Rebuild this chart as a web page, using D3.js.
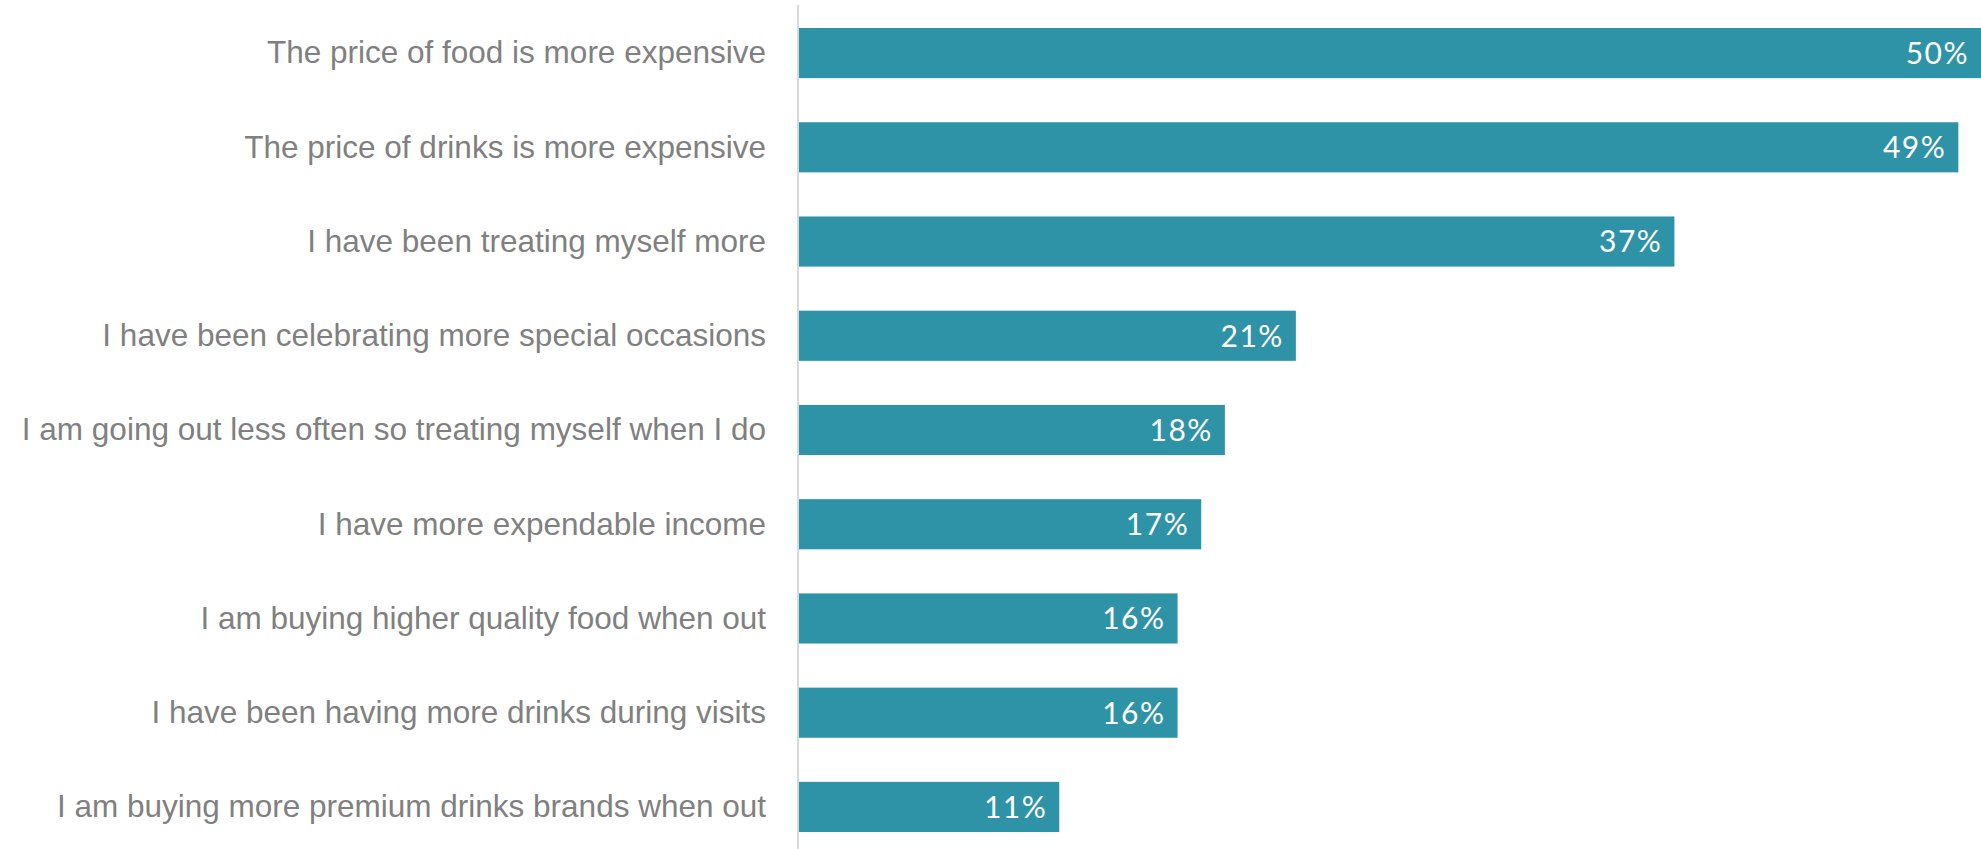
<!DOCTYPE html>
<html>
<head>
<meta charset="utf-8">
<script src="https://cdn.jsdelivr.net/npm/d3@7"></script>
<style>
  html, body { margin: 0; padding: 0; background: #ffffff; }
  svg { display: block; }
</style>
</head>
<body>
<svg id="chart" width="1981" height="849"></svg>
<script>
// Reasons given, share of respondents (%)
const categories = [
  "The price of food is more expensive",
  "The price of drinks is more expensive",
  "I have been treating myself more",
  "I have been celebrating more special occasions",
  "I am going out less often so treating myself when I do",
  "I have more expendable income",
  "I am buying higher quality food when out",
  "I have been having more drinks during visits",
  "I am buying more premium drinks brands when out"
];
const values = [50, 49, 37, 21, 18, 17, 16, 16, 11];
const valueLabels = values.map(v => v + "%");

const W = 1981, H = 849;
const axisX = 798;
const barColor = "#2e93a6";

const svg = d3.select("#chart");

const x = d3.scaleLinear()
  .domain([0, 50])
  .range([axisX + 1, axisX + 1 + 1183]);

const y = d3.scaleBand()
  .domain(categories)
  .range([28, 832])
  .paddingInner(44 / 94)
  .paddingOuter(0);

// vertical baseline
svg.append("line")
  .attr("x1", axisX).attr("x2", axisX)
  .attr("y1", 5).attr("y2", H)
  .attr("stroke", "#d9d9d9")
  .attr("stroke-width", 2);

// category labels
const yAxis = svg.append("g")
  .attr("transform", `translate(${axisX},0)`)
  .call(d3.axisLeft(y).tickSize(0).tickPadding(32));
yAxis.select(".domain").remove();
yAxis.selectAll("text")
  .attr("font-family", "'Liberation Sans', Arial, sans-serif")
  .attr("font-size", 31.5)
  .attr("fill", "#808080")
  .attr("dy", "0.33em");

// bars
svg.append("g")
  .selectAll("rect")
  .data(categories)
  .join("rect")
  .attr("x", x(0))
  .attr("y", d => y(d))
  .attr("width", (d, i) => x(values[i]) - x(0))
  .attr("height", y.bandwidth())
  .attr("fill", barColor);

// value labels inside bar ends
svg.append("g")
  .selectAll("text")
  .data(categories)
  .join("text")
  .attr("x", (d, i) => Math.min(x(values[i]), W) - 12)
  .attr("y", d => y(d) + y.bandwidth() / 2)
  .attr("dy", "0.36em")
  .attr("text-anchor", "end")
  .attr("font-family", "Lato, 'Open Sans', sans-serif")
  .attr("font-weight", 400)
  .attr("font-size", 30)
  .attr("letter-spacing", 1.5)
  .attr("fill", "#ffffff")
  .text((d, i) => valueLabels[i]);
</script>
</body>
</html>
